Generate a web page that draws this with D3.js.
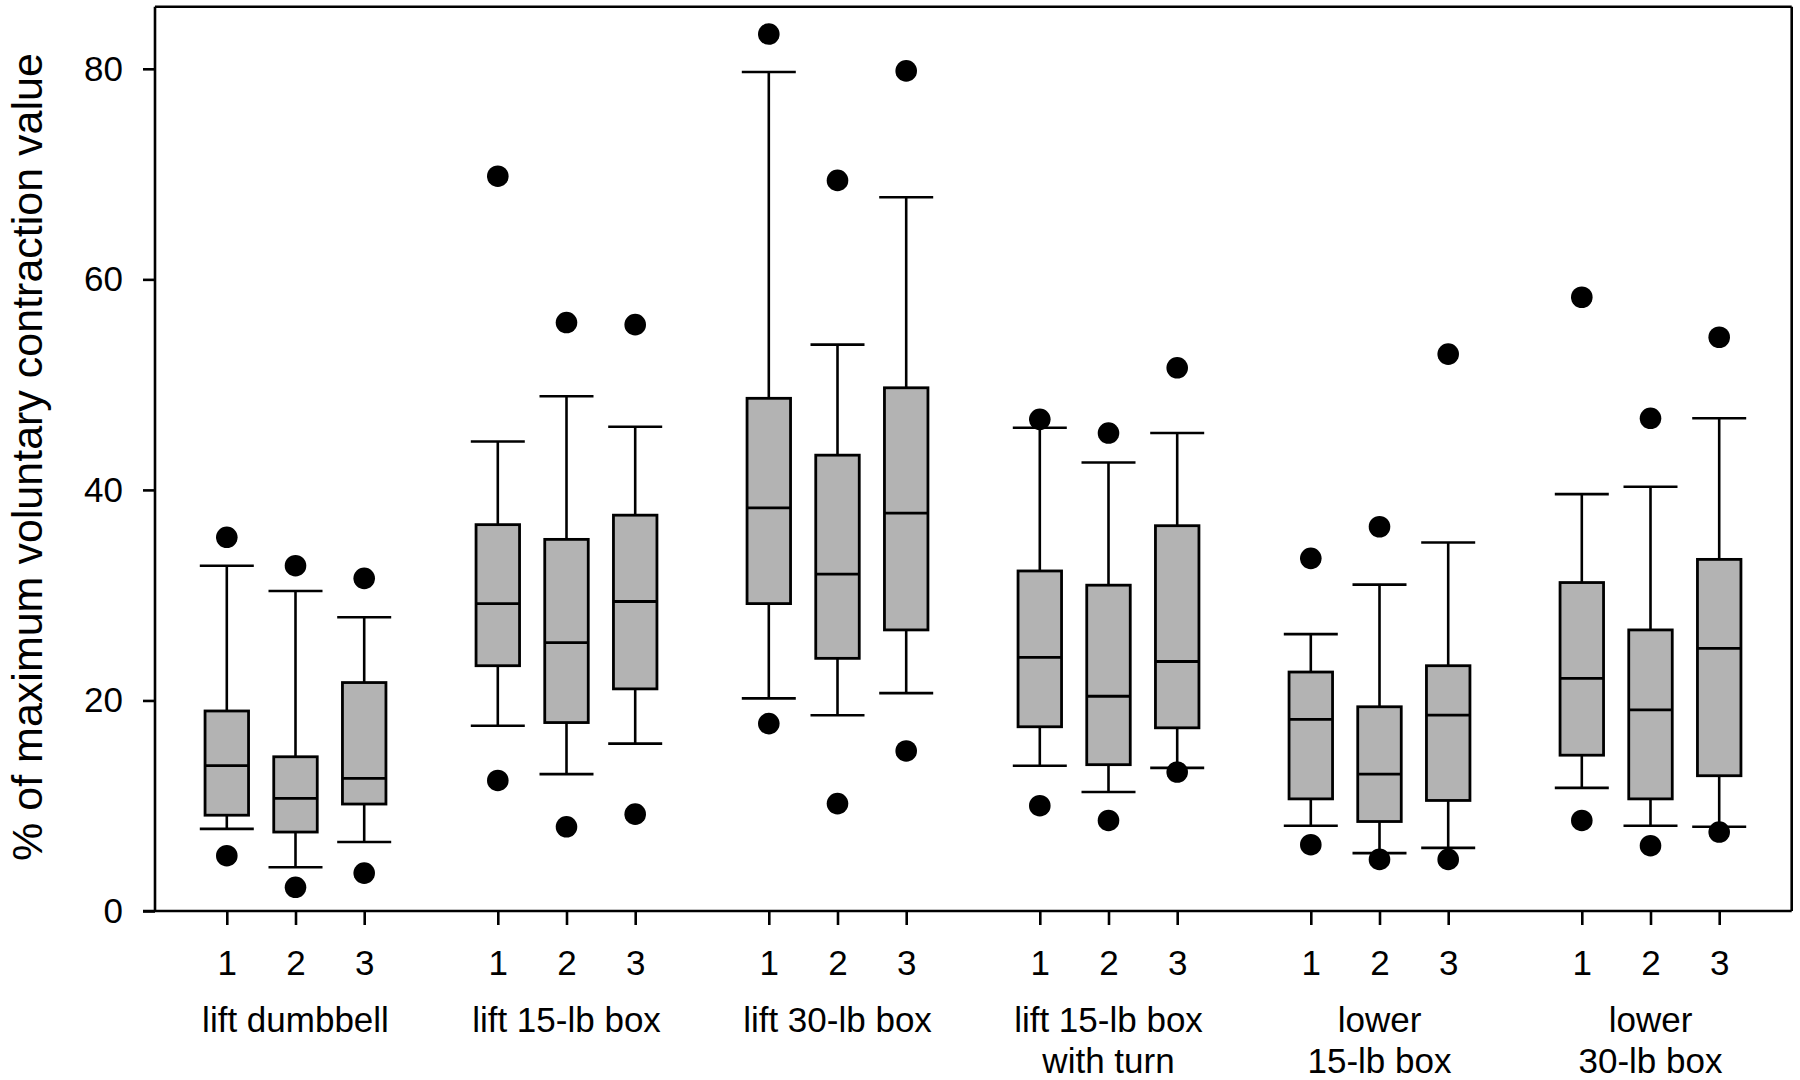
<!DOCTYPE html>
<html>
<head>
<meta charset="utf-8">
<script src="https://cdn.jsdelivr.net/npm/d3@7"></script>
<style>
  html, body { margin: 0; padding: 0; background: #fff; }
  svg { display: block; }
  text { font-family: "Liberation Sans", Arial, Helvetica, sans-serif; fill: #000; }
</style>
</head>
<body>
<svg id="chart" width="1800" height="1080"></svg>
<script>
// ---- data ----
const groups = ["lift dumbbell", "lift 15-lb box", "lift 30-lb box", "lift 15-lb box\nwith turn", "lower\n15-lb box", "lower\n30-lb box"];
const trials = ["1", "2", "3"];
const yTicks = [0, 20, 40, 60, 80];
// order: group by group, trial 1..3
const whiskerLow  = [7.8, 4.15, 6.56,  17.6, 13.0, 15.9,  20.2, 18.6, 20.7,  13.8, 11.3, 13.6,  8.1, 5.5, 6.0,   11.7, 8.1, 8.0];
const q1          = [9.1, 7.5, 10.16,  23.3, 17.9, 21.1,  29.2, 24.0, 26.7,  17.5, 13.9, 17.4,  10.65, 8.5, 10.5, 14.8, 10.65, 12.85];
const median      = [13.8, 10.7, 12.6, 29.2, 25.5, 29.4,  38.3, 32.0, 37.8,  24.1, 20.4, 23.7,  18.2, 13.0, 18.6, 22.1, 19.1, 24.95];
const q3          = [19.0, 14.65, 21.7, 36.7, 35.3, 37.6, 48.7, 43.3, 49.7,  32.3, 30.95, 36.6, 22.7, 19.4, 23.3, 31.2, 26.7, 33.4];
const whiskerHigh = [32.8, 30.4, 27.9, 44.6, 48.9, 46.0,  79.7, 53.8, 67.8,  45.9, 42.6, 45.4,  26.3, 31.0, 35.0, 39.6, 40.3, 46.8];
const outlierLow  = [5.25, 2.25, 3.6,  12.4, 8.0, 9.2,    17.8, 10.2, 15.2,  10.0, 8.6, 13.2,  6.3, 4.9, 4.9,   8.6, 6.2, 7.5];
const outlierHigh = [35.5, 32.8, 31.6, 69.8, 55.9, 55.7,  83.3, 69.4, 79.8,  46.7, 45.4, 51.6,  33.5, 36.5, 52.9, 58.3, 46.8, 54.5];
const yLabel = "% of maximum voluntary contraction value";

// ---- layout ----
const svg = d3.select("#chart");
const plotL = 155, plotR = 1791.7, plotT = 6.7, plotB = 911;
const y = d3.scaleLinear().domain([0, 85.9]).range([plotB, plotT]);
const xg = d3.scaleBand().domain(groups).range([160, 1786]).padding(0);
const bw = xg.bandwidth();
const xt = d3.scalePoint().domain(trials).range([bw / 2 - 68.7, bw / 2 + 68.7]);

const boxes = [];
groups.forEach((g, gi) => trials.forEach((t, ti) => {
  const i = gi * 3 + ti;
  boxes.push({g, t, x: xg(g) + xt(t), wl: whiskerLow[i], q1: q1[i], med: median[i], q3: q3[i], wh: whiskerHigh[i], ol: outlierLow[i], oh: outlierHigh[i]});
}));

const boxW = 43.5, capW = 54, lw = 2.6;

// frame (top & right)
svg.append("line").attr("x1", plotL).attr("x2", plotR).attr("y1", plotT).attr("y2", plotT).attr("stroke", "#000").attr("stroke-width", lw);
svg.append("line").attr("x1", plotR).attr("x2", plotR).attr("y1", plotT).attr("y2", plotB).attr("stroke", "#000").attr("stroke-width", lw);

// y axis
const yAxis = svg.append("g").attr("transform", `translate(${plotL},0)`)
  .call(d3.axisLeft(y).tickValues(yTicks).tickSize(12).tickSizeOuter(0).tickPadding(20).tickFormat(d3.format("d")));
yAxis.selectAll("path, line").attr("stroke", "#000").attr("stroke-width", lw);
yAxis.select(".domain").attr("d", `M0,${plotT}V${plotB}`);
yAxis.selectAll("text").attr("font-size", 35).attr("font-family", "Liberation Sans, Arial, sans-serif").attr("fill", "#000");

// bottom axis line
svg.append("line").attr("x1", plotL - 12).attr("x2", plotR).attr("y1", plotB).attr("y2", plotB).attr("stroke", "#000").attr("stroke-width", lw);

// x axis per group
groups.forEach(g => {
  const ax = svg.append("g").attr("transform", `translate(${xg(g)},${plotB})`)
    .call(d3.axisBottom(xt).tickSize(14).tickPadding(25).tickSizeOuter(0));
  ax.select(".domain").remove();
  ax.selectAll("line").attr("stroke", "#000").attr("stroke-width", lw);
  ax.selectAll("text").attr("font-size", 35).attr("font-family", "Liberation Sans, Arial, sans-serif").attr("fill", "#000");
  // group label
  const lines = g.split("\n");
  const t = svg.append("text").attr("text-anchor", "middle").attr("font-size", 35)
    .attr("x", xg(g) + bw / 2).attr("y", 1031.7);
  lines.forEach((ln, k) => t.append("tspan").attr("x", xg(g) + bw / 2).attr("dy", k === 0 ? 0 : 41.5).text(ln));
});

// boxes
const bg = svg.append("g");
const b = bg.selectAll("g.box").data(boxes).join("g").attr("class", "box");
// whiskers
b.append("line").attr("x1", d => d.x).attr("x2", d => d.x).attr("y1", d => y(d.q3)).attr("y2", d => y(d.wh)).attr("stroke", "#000").attr("stroke-width", lw);
b.append("line").attr("x1", d => d.x).attr("x2", d => d.x).attr("y1", d => y(d.q1)).attr("y2", d => y(d.wl)).attr("stroke", "#000").attr("stroke-width", lw);
// caps
b.append("line").attr("x1", d => d.x - capW / 2).attr("x2", d => d.x + capW / 2).attr("y1", d => y(d.wh)).attr("y2", d => y(d.wh)).attr("stroke", "#000").attr("stroke-width", lw);
b.append("line").attr("x1", d => d.x - capW / 2).attr("x2", d => d.x + capW / 2).attr("y1", d => y(d.wl)).attr("y2", d => y(d.wl)).attr("stroke", "#000").attr("stroke-width", lw);
// box
b.append("rect").attr("x", d => d.x - boxW / 2).attr("width", boxW)
  .attr("y", d => y(d.q3)).attr("height", d => y(d.q1) - y(d.q3))
  .attr("fill", "#b3b3b3").attr("stroke", "#000").attr("stroke-width", 2.8);
// median
b.append("line").attr("x1", d => d.x - boxW / 2).attr("x2", d => d.x + boxW / 2).attr("y1", d => y(d.med)).attr("y2", d => y(d.med)).attr("stroke", "#000").attr("stroke-width", 2.8);
// outliers
b.append("circle").attr("cx", d => d.x).attr("cy", d => y(d.oh)).attr("r", 10.8).attr("fill", "#000");
b.append("circle").attr("cx", d => d.x).attr("cy", d => y(d.ol)).attr("r", 10.8).attr("fill", "#000");

// y label
svg.append("text").attr("text-anchor", "middle").attr("font-size", 43)
  .attr("transform", `translate(42,${457}) rotate(-90)`).text(yLabel);
</script>
</body>
</html>
